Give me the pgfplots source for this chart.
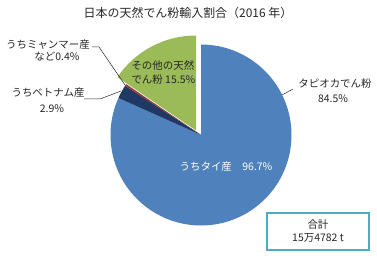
\documentclass[border=0pt]{standalone}
\usepackage{pgfplots}
\pgfplotsset{compat=1.18}
\usepackage{pgfplotstable}
\usepackage{fontspec}
\setmainfont{Noto Sans CJK JP}
\definecolor{pieblue}{HTML}{4F81BD}
\definecolor{pienavy}{HTML}{1F3864}
\definecolor{piered}{HTML}{953735}
\definecolor{piegreen}{HTML}{9BBB59}
\definecolor{boxteal}{HTML}{4BACC6}
\definecolor{txt}{HTML}{262626}

% share of total imports (%)
\pgfplotstableread{
part share
tapioca 84.5
other 15.5
}\totaltab
% origin within tapioca starch (%)
\pgfplotstableread{
origin share
thai 96.7
vietnam 2.9
myanmar 0.4
}\tapiocatab

\newcommand\lbl{\fontsize{10.5}{12}\selectfont}

\begin{document}
\begin{tikzpicture}
\useasboundingbox (0,0) rectangle (377bp,263bp);
\pgfplotstablegetelem{0}{share}\of\totaltab \let\tap=\pgfplotsretval
\pgfplotstablegetelem{1}{share}\of\totaltab \let\oth=\pgfplotsretval
\pgfplotstablegetelem{0}{share}\of\tapiocatab \let\thai=\pgfplotsretval
\pgfplotstablegetelem{1}{share}\of\tapiocatab \let\viet=\pgfplotsretval
\pgfplotstablegetelem{2}{share}\of\tapiocatab \let\myan=\pgfplotsretval
\pgfmathsetmacro\aA{90}
\pgfmathsetmacro\aB{\aA-\tap*\thai/100*3.6}
\pgfmathsetmacro\aC{\aB-\tap*\viet/100*3.6}
\pgfmathsetmacro\aD{\aC-\tap*\myan/100*3.6}
\pgfmathsetmacro\aE{\aD-\oth*3.6}
\begin{axis}[
  x=1bp, y=1bp, xmin=0, xmax=377, ymin=0, ymax=263,
  hide axis, clip=false, anchor=origin, at={(0,0)},
]
% Thailand
\fill[pieblue] (axis cs:201,128) -- ++(\aA:90.5bp) arc[start angle=\aA, end angle=\aB, radius=90.5bp] -- cycle;
% Vietnam
\fill[pienavy] (axis cs:201,128) -- ++(\aB:90.5bp) arc[start angle=\aB, end angle=\aC, radius=90.5bp] -- cycle;
% Myanmar etc.
\fill[piered] (axis cs:201,128) -- ++(\aC:90.5bp) arc[start angle=\aC, end angle=\aD, radius=90.5bp] -- cycle;
% other natural starch (exploded)
\fill[piegreen] (axis cs:196,132.5) -- ++(\aD:95bp) arc[start angle=\aD, end angle=\aE, radius=95bp] -- cycle;

% title
\node[txt, font=\fontsize{12}{14}\selectfont] at (axis cs:188,250) {日本の天然でん粉輸入割合（2016 年）};

% leader lines
\draw[txt, line width=0.5bp] (axis cs:92,216) -- (axis cs:99,216) -- (axis cs:125,178);
\draw[txt, line width=0.5bp] (axis cs:84,164) -- (axis cs:100,164) -- (axis cs:121,172);
\draw[txt, line width=0.5bp] (axis cs:293,174) -- (axis cs:282,168);

% labels
\node[txt, font=\lbl] at (axis cs:48,218) {うちミャンマー産};
\node[txt, font=\lbl] at (axis cs:57,206) {など0.4\%};
\node[txt, font=\lbl] at (axis cs:48,170) {うちベトナム産};
\node[txt, font=\lbl] at (axis cs:52,154) {2.9\%};
\node[txt, font=\lbl, anchor=west] at (axis cs:128,198) {その他の天然};
\node[txt, font=\lbl, anchor=west] at (axis cs:128,183) {でん粉 15.5\%};
\node[white, font=\lbl] at (axis cs:226,96) {うちタイ産　96.7\%};
\node[txt, font=\lbl] at (axis cs:335,179) {タピオカでん粉};
\node[txt, font=\lbl] at (axis cs:333,164) {84.5\%};

% total box
\draw[boxteal, line width=2bp, fill=white] (axis cs:267,13) rectangle (axis cs:369,50);
\node[txt, font=\lbl] at (axis cs:318,38) {合計};
\node[txt, font=\lbl] at (axis cs:318,25) {15万4782 t};
\end{axis}
\end{tikzpicture}
\end{document}
